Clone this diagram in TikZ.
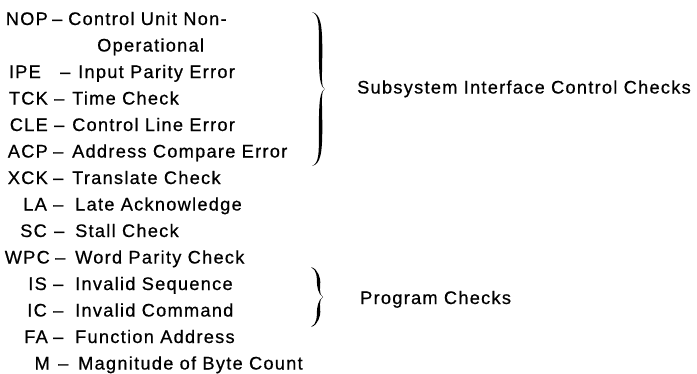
\documentclass[tikz,border=0pt]{standalone}
\usepackage{fontspec}
\setmainfont{Liberation Sans}[LetterSpace=7,FakeBold=0.6]
\newcommand\mybracefill[6]{% #1 end x, #2 arm x, #3 tip x, #4 top y, #5 tip y, #6 bottom y
\fill (#1,#4) .. controls (#2,#4+2) and (#2+1.8,#4+12) .. (#2+1.8,{(#4+#5)/2})
 .. controls (#2+1.8,#5-12) and (#2,#5-2) .. (#3,#5)
 .. controls (#2,#5+2) and (#2+1.8,#5+12) .. (#2+1.8,{(#5+#6)/2})
 .. controls (#2+1.8,#6-12) and (#2,#6-2) .. (#1,#6)
 .. controls (#2-1.2,#6-3) and (#2-1.6,#6-12) .. (#2-1.6,{(#5+#6)/2})
 .. controls (#2-1.6,#5+12) and (#2-0.5,#5+2) .. (#3,#5)
 .. controls (#2-0.5,#5-2) and (#2-1.6,#5-12) .. (#2-1.6,{(#4+#5)/2})
 .. controls (#2-1.6,#4+12) and (#2-1.2,#4+3) .. (#1,#4) -- cycle;}
\begin{document}
\begin{tikzpicture}[x=1pt,y=-1pt,
  txt/.style={inner sep=0pt,font=\fontsize{18.2}{21}\selectfont},
  abbr/.style={txt,anchor=base east},
  dsh/.style={txt,anchor=base west},
  desc/.style={txt,anchor=base west}]
\useasboundingbox (0,0) rectangle (697,373);
% lines: abbreviation end, dash start, baseline
\foreach \n/\a/\ae/\ds/\y in {
  l1/NOP/48/52/25,
  l3/IPE/41/60/78,
  l4/TCK/48/54/104.5,
  l5/CLE/48/54/131,
  l6/ACP/48/53/157.5,
  l7/XCK/48/53/184,
  l8/LA/47/53/210.5,
  l9/SC/47/54/237,
  l10/WPC/50/55/263.5,
  l11/IS/47/53/290,
  l12/IC/47/53/316.5,
  l13/FA/48/53/343,
  l14/M/50/58/369.5}{
  \node[abbr] (\n a) at (\ae,\y) {\a};
  \node[dsh] (\n d) at (\ds,\y) {–};
}
\node[desc] (l1t) at (68,25) {Control Unit Non-};
\node[desc] (l2t) at (97,51.5) {Operational};
\node[desc] (l3t) at (78,78) {Input Parity Error};
\node[desc] (l4t) at (72,104.5) {Time Check};
\node[desc] (l5t) at (72,131) {Control Line Error};
\node[desc] (l6t) at (72,157.5) {Address Compare Error};
\node[desc] (l7t) at (72,184) {Translate Check};
\node[desc] (l8t) at (75,210.5) {Late Acknowledge};
\node[desc] (l9t) at (75,237) {Stall Check};
\node[desc] (l10t) at (75,263.5) {Word Parity Check};
\node[desc] (l11t) at (75,290) {Invalid Sequence};
\node[desc] (l12t) at (75,316.5) {Invalid Command};
\node[desc] (l13t) at (75,343) {Function Address};
\node[desc] (l14t) at (78,369.5) {Magnitude of Byte Count};
\mybracefill{312}{320.5}{325}{12}{89}{166}
\mybracefill{311}{318.5}{323}{267}{297}{327}
\node[desc] (sic) at (357,93.5) {Subsystem Interface Control Checks};
\node[desc] (pc) at (360,304) {Program Checks};
\end{tikzpicture}
\end{document}
